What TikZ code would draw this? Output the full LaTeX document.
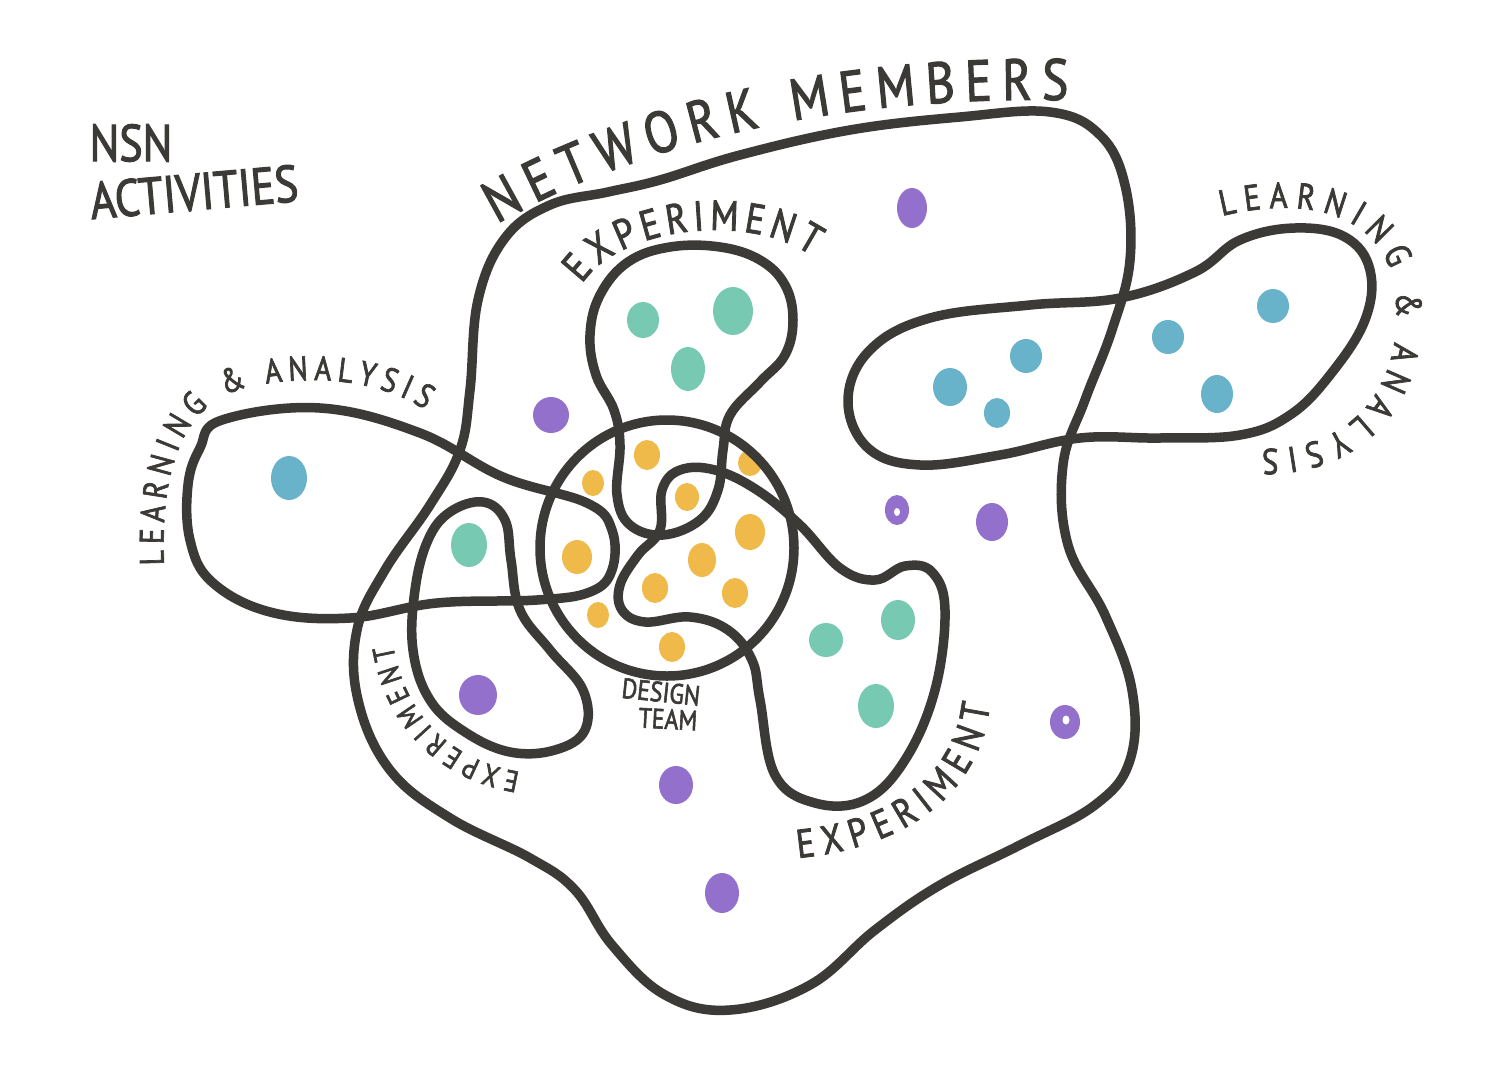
\documentclass[tikz,border=0pt]{standalone}
\usepackage{fontspec}
\setmainfont{PT Sans}
\newfontfamily\hand{PT Sans}[FakeStretch=0.85,FakeBold=2]
\usetikzlibrary{decorations.text}
\definecolor{ink}{HTML}{3B3A37}
\definecolor{purp}{HTML}{9370CB}
\definecolor{teal}{HTML}{78C9B2}
\definecolor{bluedot}{HTML}{68B2CA}
\definecolor{yell}{HTML}{F0BA4A}
\tikzset{
  blob/.style={draw=ink, line width=9.5pt, line join=round, line cap=round},
  curvetext/.style 2 args={decorate, decoration={text along path, text align=fit to path, text color=ink,
     text={|\hand\fontsize{#1}{#1}\selectfont|#2}}},
  label/.style={text=ink, inner sep=0pt, anchor=center},
}
\begin{document}
\begin{tikzpicture}[x=1pt,y=-1pt]
\useasboundingbox (0,0) rectangle (1500,1085);
\fill[white] (0,0) rectangle (1500,1085);

% ---- dots ----
% purple
\foreach \x/\y/\a/\b in {912/208/15/20, 551/415/18/18, 897/510/12/15, 992/522/16/19, 478/695/19/20, 1065/722/15/17, 676/785/17/19, 722/893/17/20}
  \fill[purp] (\x,\y) ellipse [x radius=\a, y radius=\b];
\fill[white] (897,512) ellipse [x radius=3, y radius=4];
\fill[white] (1066,720) ellipse [x radius=3.5, y radius=4.5];
% teal
\foreach \x/\y/\a/\b in {643/320/16/18, 733/311/20/24, 688/369/17/22, 469/545/18/22, 826/640/17/17, 898/620/17/20, 876/706/18/22}
  \fill[teal] (\x,\y) ellipse [x radius=\a, y radius=\b];
% blue
\foreach \x/\y/\a/\b in {289/478/18/22, 1168/337/16/17, 1273/306/16/17, 950/387/17/19, 1026/356/16/17, 997/413/13/15, 1217/394/16/19}
  \fill[bluedot] (\x,\y) ellipse [x radius=\a, y radius=\b];
% yellow
\foreach \x/\y/\a/\b in {647/455/13/15, 750/463/12/13, 593/483/11/13, 687/497/12/14, 750/532/15/18, 577/557/15/17, 702/560/14/17, 655/588/13/15, 735/593/13/15, 598/615/11/13, 672/647/13/15}
  \fill[yell] (\x,\y) ellipse [x radius=\a, y radius=\b];

% ---- outlines ----
% network members
\draw[blob] plot[smooth cycle, tension=0.65] coordinates {
 (470,390) (478,300) (505,238) (550,205) (608,192) (660,180) (740,155) (850,130) (960,117) (1050,112)
 (1100,135) (1125,185) (1130,260) (1112,330) (1085,400) (1063,465) (1068,545) (1105,615) (1132,690)
 (1130,760) (1095,805) (1020,845) (940,885) (875,930) (810,985) (730,1010) (665,995) (612,945)
 (575,890) (530,858) (450,818) (390,770) (358,700) (357,630) (385,570) (430,505) (460,450)};
% top experiment
\draw[blob] plot[smooth cycle, tension=0.65] coordinates {
 (723,450) (730,415) (760,382) (785,355) (793,320) (785,285) (760,260) (720,247) (670,247) (628,262)
 (600,295) (590,335) (596,375) (614,410) (620,445) (617,495) (630,525) (663,535) (700,520) (718,490)};
% left learning & analysis
\draw[blob] plot[smooth cycle, tension=0.65] coordinates {
 (222,420) (320,408) (420,433) (503,477) (587,503) (612,530) (612,570) (590,592) (537,600) (437,603)
 (350,618) (270,612) (212,582) (190,540) (188,485) (200,448)};
% lower-left experiment
\draw[blob] plot[smooth cycle, tension=0.65] coordinates {
 (483,502) (505,520) (511,560) (520,610) (550,650) (583,690) (585,730) (555,750) (510,752) (465,732)
 (430,700) (413,650) (415,590) (428,540) (450,512)};
% design team
\draw[blob] (667,548) ellipse [x radius=127, y radius=128];
% lower-right experiment
\draw[blob] plot[smooth cycle, tension=0.65] coordinates {
 (760,700) (775,775) (815,803) (865,800) (905,760) (935,690) (945,610) (932,572) (905,566) (875,580)
 (840,568) (800,525) (757,490) (715,470) (680,470) (662,490) (660,530) (638,555) (620,585) (622,610)
 (645,622) (690,617) (728,630) (752,660)};
% right learning & analysis
\draw[blob] plot[smooth cycle, tension=0.65] coordinates {
 (848,400) (870,350) (930,318) (1030,305) (1120,298) (1195,272) (1240,240) (1295,228) (1345,237)
 (1370,270) (1365,320) (1330,375) (1290,415) (1240,435) (1160,438) (1080,438) (1000,455) (920,465)
 (868,448)};

% ---- curved labels ----
\path[curvetext={58pt}{NETWORK MEMBERS}] (497,224) .. controls (610,158) and (800,95) .. (1068,100);
\path[curvetext={42pt}{EXPERIMENT}] (582,284) .. controls (620,226) and (750,212) .. (812,256);
\path[curvetext={34pt}{LEARNING {\&} ANALYSIS}] (164,565) .. controls (160,465) and (185,403) .. (245,388) .. controls (320,370) and (390,385) .. (425,410);
\path[curvetext={36pt}{LEARNING {\&} ANALYSIS}] (1222,216) .. controls (1320,192) and (1392,222) .. (1396,300) .. controls (1402,390) and (1350,450) .. (1262,449);
\path[curvetext={30pt}{EXPERIMENT}] (520,772) .. controls (450,760) and (405,715) .. (393,645);
\path[curvetext={40pt}{EXPERIMENT}] (798,858) .. controls (900,848) and (978,800) .. (990,705);

% ---- straight labels ----
\node[label, font=\hand\fontsize{52pt}{52pt}\selectfont] (nsn) at (131,143) {NSN};
\node[label, font=\hand\fontsize{52pt}{52pt}\selectfont, rotate=5] (act) at (194,192) {ACTIVITIES};
\node[label, font=\hand\fontsize{28pt}{28pt}\selectfont, rotate=-6] (design) at (661,692) {DESIGN};
\node[label, font=\hand\fontsize{28pt}{28pt}\selectfont, rotate=-3] (team) at (668,719) {TEAM};
\end{tikzpicture}
\end{document}
